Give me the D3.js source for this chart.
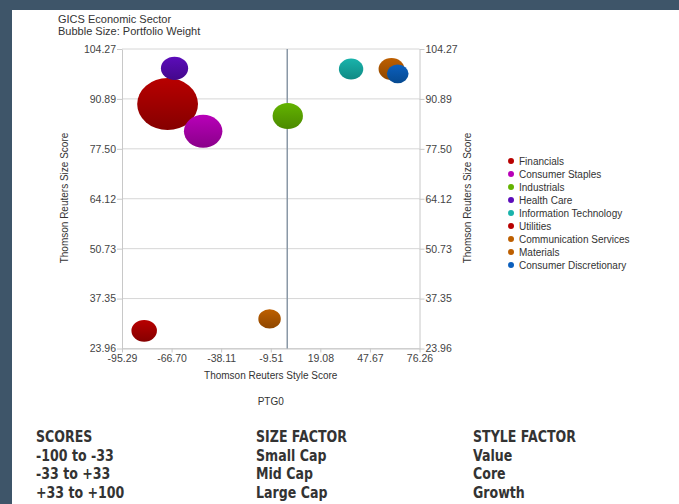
<!DOCTYPE html>
<html><head><meta charset="utf-8">
<script src="https://cdn.jsdelivr.net/npm/d3@7"></script>
<style>
html,body{margin:0;padding:0;background:#3e5569;}
svg{display:block;}
</style></head>
<body>
<svg id="c" width="679" height="504"></svg>
<script>
// ---- data ----
const sectors = ["Financials","Consumer Staples","Industrials","Health Care","Information Technology","Utilities","Communication Services","Materials","Consumer Discretionary"];
const styleScore = [-69.0, -48.5, 0.3, -65.0, 36.8, -82.5, 60.1, -10.2, 63.7];
const sizeScore  = [89.5, 82.2, 86.3, 99.1, 98.9, 28.7, 98.9, 31.9, 97.6];
const weight     = [20.5, 8.2, 5.1, 4.1, 3.3, 3.6, 3.7, 2.8, 2.6];
const colorsTop  = ["#b80000","#b800b8","#63b300","#5c0cba","#19b3ab","#b80000","#bd5f00","#bd5f00","#0b5fbd"];
const colorsBot  = ["#850000","#8a008a","#4b8a00","#43088c","#0f8a84","#850000","#8f4700","#8f4700","#064a91"];
const xTicks = [-95.29,-66.70,-38.11,-9.51,19.08,47.67,76.26];
const yTicks = [104.27,90.89,77.50,64.12,50.73,37.35,23.96];
const scoreRows = [["SCORES","SIZE FACTOR","STYLE FACTOR"],["-100 to -33","Small Cap","Value"],["-33 to +33","Mid Cap","Core"],["+33 to +100","Large Cap","Growth"]];

const data = sectors.map((s,i)=>({name:s,x:styleScore[i],y:sizeScore[i],w:weight[i],c1:colorsTop[i],c2:colorsBot[i],i}));

const svg = d3.select("#c");
svg.append("rect").attr("x",12).attr("y",10).attr("width",667).attr("height",494).attr("fill","#fff");

const L=122, R=419.5, T=49, B=348.5;
const x = d3.scaleLinear().domain([xTicks[0], xTicks[6]]).range([L,R]);
const y = d3.scaleLinear().domain([yTicks[6], yTicks[0]]).range([B,T]);
const r = d3.scaleSqrt().domain([0, 20.5]).range([0, 26]);
const font = "Liberation Sans, Arial, sans-serif";

// title
svg.append("text").attr("x",58).attr("y",23).attr("font-family",font).attr("font-size",11).attr("fill","#333").text("GICS Economic Sector");
svg.append("text").attr("x",58).attr("y",35).attr("font-family",font).attr("font-size",11).attr("fill","#333").text("Bubble Size: Portfolio Weight");

// gridlines
svg.append("g").selectAll("line").data(yTicks).join("line")
  .attr("x1",L).attr("x2",R).attr("y1",d=>y(d)).attr("y2",d=>y(d))
  .attr("stroke","#d6d6d6").attr("stroke-width",1);

// axes
function styleAxis(g){
  g.selectAll(".domain").attr("stroke","#c8c8c8");
  g.selectAll(".tick line").attr("stroke","#c8c8c8");
  g.selectAll("text").attr("font-family",font).attr("font-size",10.5).attr("fill","#444");
}
const fmt = d => d.toFixed(2);
svg.append("g").attr("transform",`translate(${L},0)`).call(d3.axisLeft(y).tickValues(yTicks).tickFormat(fmt).tickSize(5).tickSizeOuter(0).tickPadding(1)).call(styleAxis);
svg.append("g").attr("transform",`translate(${R},0)`).call(d3.axisRight(y).tickValues(yTicks).tickFormat(fmt).tickSize(5).tickSizeOuter(0).tickPadding(1)).call(styleAxis);
svg.append("g").attr("transform",`translate(0,${B})`).call(d3.axisBottom(x).tickValues(xTicks).tickFormat(fmt).tickSize(4).tickSizeOuter(0).tickPadding(2)).call(styleAxis);

// zero line
svg.append("line").attr("x1",x(0)).attr("x2",x(0)).attr("y1",T).attr("y2",B).attr("stroke","#8a98a6").attr("stroke-width",1.5);

// axis titles
svg.append("text").attr("transform",`translate(68,198) rotate(-90)`).attr("text-anchor","middle").attr("font-family",font).attr("font-size",10).attr("fill","#333").text("Thomson Reuters Size Score");
svg.append("text").attr("transform",`translate(471,198) rotate(-90)`).attr("text-anchor","middle").attr("font-family",font).attr("font-size",10).attr("fill","#333").text("Thomson Reuters Size Score");
svg.append("text").attr("x",(L+R)/2).attr("y",379).attr("text-anchor","middle").attr("font-family",font).attr("font-size",10).attr("fill","#333").text("Thomson Reuters Style Score");
svg.append("text").attr("x",(L+R)/2).attr("y",405).attr("text-anchor","middle").attr("font-family",font).attr("font-size",10).attr("fill","#333").text("PTG0");

// gradients
const defs = svg.append("defs");
data.forEach(d=>{
  const g = defs.append("linearGradient").attr("id","g"+d.i).attr("x1",0).attr("y1",0).attr("x2",0).attr("y2",1);
  g.append("stop").attr("offset","0%").attr("stop-color",d.c1);
  g.append("stop").attr("offset","100%").attr("stop-color",d.c2);
});

// bubbles
const aspect = 1.17;
svg.append("g").selectAll("ellipse").data(data).join("ellipse")
  .attr("cx",d=>x(d.x)).attr("cy",d=>y(d.y))
  .attr("rx",d=>r(d.w)*aspect).attr("ry",d=>r(d.w))
  .attr("fill",d=>`url(#g${d.i})`);

// legend
const lg = svg.append("g").selectAll("g").data(data).join("g")
  .attr("transform",(d,i)=>`translate(511,${161+i*13})`);
lg.append("circle").attr("r",3).attr("fill",d=>d.c1);
lg.append("text").attr("x",8).attr("dy","0.35em").attr("font-family",font).attr("font-size",10).attr("fill","#333").text(d=>d.name);

// bottom table
const colX = [36,256,473];
scoreRows.forEach((row,ri)=>{
  row.forEach((t,ci)=>{
    svg.append("text").attr("transform",`translate(${colX[ci]},${442+ri*18.5}) scale(0.84,1)`)
      .attr("font-family","DejaVu Sans, sans-serif")
      .attr("font-weight","bold").attr("font-size",15).attr("fill","#333").text(t);
  });
});
</script>
</body></html>
